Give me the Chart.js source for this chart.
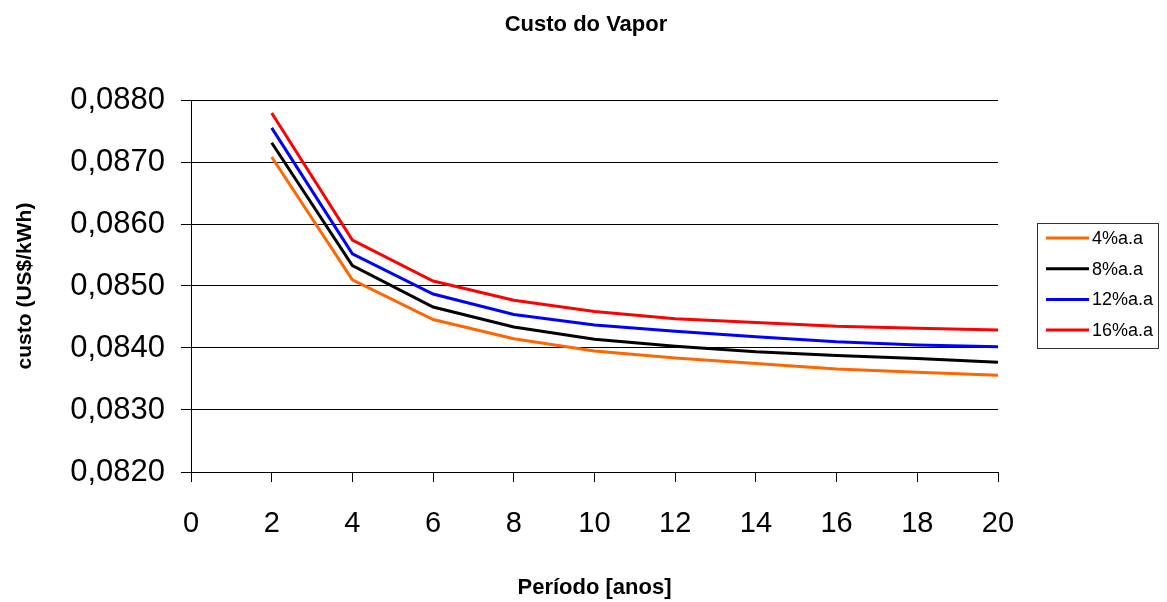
<!DOCTYPE html>
<html>
<head>
<meta charset="utf-8">
<title>Custo do Vapor</title>
<script src="https://cdn.jsdelivr.net/npm/chart.js@4/dist/chart.umd.min.js"></script>
<style>
  html, body { margin: 0; padding: 0; background: #fff; }
  #wrap { width: 1167px; height: 602px; position: relative; }
</style>
</head>
<body>
<div id="wrap"><canvas id="c" width="1167" height="602"></canvas></div>
<script>
// Período de análise (anos)
const periodos = [2, 4, 6, 8, 10, 12, 14, 16, 18, 20];

// Custo do vapor (US$/kWh) por taxa de juros
const taxa4  = [0.08708, 0.08510, 0.08446, 0.08415, 0.08395, 0.08384, 0.08375, 0.08366, 0.08361, 0.08356];
const taxa8  = [0.08731, 0.08533, 0.08466, 0.08434, 0.08414, 0.08403, 0.08394, 0.08388, 0.08383, 0.08377];
const taxa12 = [0.08755, 0.08552, 0.08487, 0.08454, 0.08437, 0.08427, 0.08418, 0.08410, 0.08405, 0.08402];
const taxa16 = [0.08779, 0.08574, 0.08508, 0.08477, 0.08459, 0.08447, 0.08441, 0.08435, 0.08432, 0.08429];

const nomesSeries = ['4%a.a', '8%a.a', '12%a.a', '16%a.a'];
const coresSeries = ['#FF6600', '#000000', '#0000FF', '#FF0000'];

const tituloGrafico = 'Custo do Vapor';
const eixoY = { min: 0.082, max: 0.088, passo: 0.001 };
const eixoX = { min: 0, max: 20, passo: 2 };

const FONTE = "'Liberation Sans', Arial, sans-serif";

function pontos(valores) {
  return periodos.map((p, i) => ({ x: p, y: valores[i] }));
}

const series = [taxa4, taxa8, taxa12, taxa16].map((v, i) => ({
  label: nomesSeries[i],
  data: pontos(v),
  borderColor: coresSeries[i],
  backgroundColor: coresSeries[i],
  borderWidth: 3,
  pointRadius: 0,
  pointHoverRadius: 0,
  tension: 0,
  fill: false
}));

// Título centralizado na largura total da figura
const tituloTopo = {
  id: 'tituloTopo',
  afterDraw(chart) {
    const ctx = chart.ctx;
    ctx.save();
    ctx.font = 'bold 22px ' + FONTE;
    ctx.fillStyle = '#000';
    ctx.textAlign = 'center';
    ctx.textBaseline = 'middle';
    ctx.fillText(tituloGrafico, 586, 25);
    ctx.restore();
  }
};

// Legenda desenhada à direita, dentro de uma caixa
const legendaCaixa = {
  id: 'legendaCaixa',
  afterDraw(chart) {
    const ctx = chart.ctx;
    const x0 = 1037, y0 = 223, w = 121, h = 125;
    ctx.save();
    ctx.strokeStyle = '#333';
    ctx.lineWidth = 1;
    ctx.strokeRect(x0 + 0.5, y0 + 0.5, w, h);
    ctx.font = '18px ' + FONTE;
    ctx.textBaseline = 'middle';
    ctx.textAlign = 'left';
    chart.data.datasets.forEach((ds, i) => {
      const y = 238 + i * 30.7;
      ctx.strokeStyle = ds.borderColor;
      ctx.lineWidth = 3;
      ctx.beginPath();
      ctx.moveTo(1046, y);
      ctx.lineTo(1089, y);
      ctx.stroke();
      ctx.fillStyle = '#000';
      ctx.fillText(ds.label, 1092, y + 1);
    });
    ctx.restore();
  }
};

new Chart(document.getElementById('c'), {
  type: 'line',
  data: { datasets: series },
  options: {
    responsive: false,
    animation: false,
    devicePixelRatio: 1,
    layout: { padding: { top: 100, right: 169, bottom: 0, left: 0 } },
    plugins: {
      legend: { display: false },
      tooltip: { enabled: false },
      title: { display: false }
    },
    scales: {
      x: {
        type: 'linear',
        min: eixoX.min,
        max: eixoX.max,
        afterFit(scale) { scale.height = 130; },
        ticks: {
          stepSize: eixoX.passo,
          color: '#000',
          font: { family: FONTE, size: 29 },
          padding: 25,
          maxRotation: 0
        },
        grid: {
          drawOnChartArea: false,
          drawTicks: true,
          tickLength: 10,
          color: '#000',
          lineWidth: 1
        },
        border: { display: true, color: '#000', width: 1 },
        title: {
          display: true,
          text: 'Período [anos]',
          color: '#000',
          font: { family: FONTE, size: 22, weight: 'bold' },
          padding: { top: 0, bottom: 1 }
        }
      },
      y: {
        type: 'linear',
        min: eixoY.min,
        max: eixoY.max,
        afterFit(scale) { scale.width = 191; },
        afterBuildTicks(scale) {
          const t = [];
          for (let v = eixoY.min; v <= eixoY.max + 1e-9; v += eixoY.passo) t.push({ value: +v.toFixed(4) });
          scale.ticks = t;
        },
        ticks: {
          color: '#000',
          font: { family: FONTE, size: 31 },
          padding: 16,
          callback: (v) => Number(v).toFixed(4).replace('.', ',')
        },
        grid: {
          drawTicks: true,
          tickLength: 10,
          color: '#000',
          lineWidth: 1
        },
        border: { display: true, color: '#000', width: 1 },
        title: {
          display: true,
          text: 'custo (US$/kWh)',
          color: '#000',
          font: { family: FONTE, size: 21, weight: 'bold' },
          padding: { top: 13, bottom: 0 }
        }
      }
    }
  },
  plugins: [tituloTopo, legendaCaixa]
});
</script>
</body>
</html>
